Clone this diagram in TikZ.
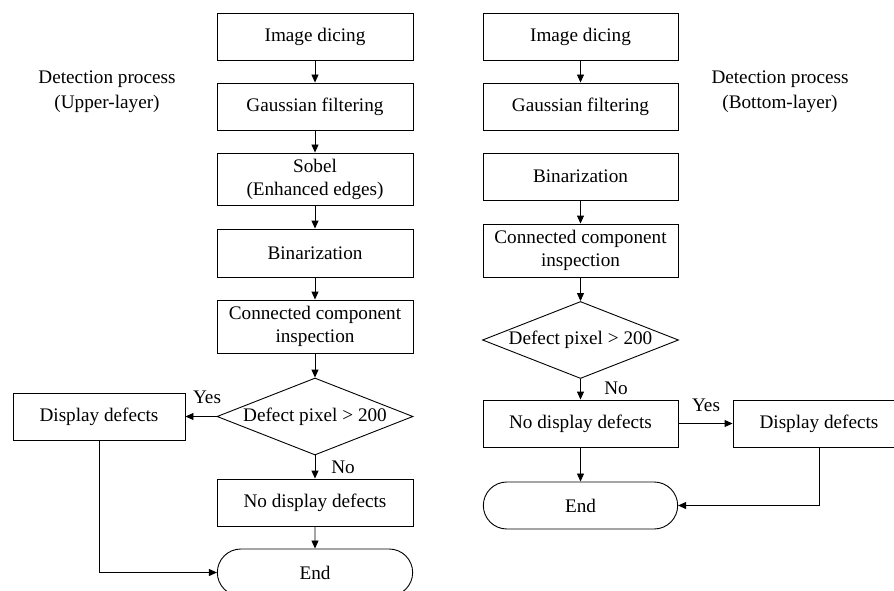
\documentclass[tikz,border=0pt]{standalone}
\usepackage{fontspec}
\setmainfont{Liberation Serif}
\usetikzlibrary{shapes.geometric,shapes.misc,arrows.meta}
\begin{document}
\begin{tikzpicture}[x=1pt,y=-1pt,
  font=\fontsize{19.2pt}{23pt}\selectfont,
  line width=0.9pt,
  box/.style={draw, rectangle, minimum width=196pt, minimum height=47pt, inner sep=2pt, align=center},
  dia/.style={draw, diamond, aspect=2.55, inner sep=0pt, minimum width=196pt, minimum height=77pt},
  term/.style={draw, rounded rectangle, minimum width=202pt, minimum height=47pt},
  arr/.style={-{Triangle[length=8pt,width=7pt]}},
  lab/.style={inner sep=0pt, align=center}
]
\clip (0,0) rectangle (894,591);
% left column
\node[box] (L1) at (315,36.5) {Image dicing};
\node[box] (L2) at (315,106.5) {Gaussian filtering};
\node[box, minimum height=52pt] (L3) at (315,179) {Sobel\\(Enhanced edges)};
\node[box, minimum height=48pt] (L4) at (315,253) {Binarization};
\node[box, minimum height=53pt] (L5) at (315,326.5) {Connected component\\inspection};
\node[dia] (L6) at (315,416.5) {Defect pixel > 200};
\node[box, minimum width=172pt] (L7) at (99,416.5) {Display defects};
\node[box] (L8) at (315,502.5) {No display defects};
\node[term] (L9) at (315,572.5) {End};
\node[lab, font=\fontsize{19.2pt}{25pt}\selectfont] (LT) at (107,92) {Detection process\\(Upper-layer)};
\draw[arr] (L1) -- (L2);
\draw[arr] (L2) -- (L3);
\draw[arr] (L3) -- (L4);
\draw[arr] (L4) -- (L5);
\draw[arr] (L5) -- (L6);
\draw[arr] (L6.west) -- (L7.east);
\draw[arr] (L6.south) -- (L8.north);
\draw[arr] (L8) -- (L9);
\draw[arr] (L7.south) |- (L9.west);
\node[lab] (LY) at (207,397) {Yes};
\node[lab] (LN) at (343,467) {No};
% right column
\node[box, minimum width=195pt] (R1) at (580.5,36.5) {Image dicing};
\node[box, minimum width=195pt] (R2) at (580.5,106.5) {Gaussian filtering};
\node[box, minimum width=195pt] (R3) at (580.5,176.5) {Binarization};
\node[box, minimum width=195pt, minimum height=53pt] (R4) at (580.5,250.5) {Connected component\\inspection};
\node[dia] (R5) at (580.5,340) {Defect pixel > 200};
\node[box, minimum width=195pt] (R6) at (580.5,423.5) {No display defects};
\node[box, minimum width=172pt] (R7) at (819,423.5) {Display defects};
\node[term, minimum width=201pt] (R8) at (580.5,505.5) {End};
\node[lab, font=\fontsize{19.2pt}{25pt}\selectfont] (RT) at (780,92) {Detection process\\(Bottom-layer)};
\draw[arr] (R1) -- (R2);
\draw[arr] (R3) -- (R4);
\draw[arr] (R4) -- (R5);
\draw[arr] (R5.south) -- (R6.north);
\draw[arr] (R6.east) -- (R7.west);
\draw[arr] (R6) -- (R8);
\draw[arr] (R7.south) |- (R8.east);
\node[lab] (RY) at (706,405) {Yes};
\node[lab] (RN) at (616,388) {No};
\end{tikzpicture}
\end{document}
